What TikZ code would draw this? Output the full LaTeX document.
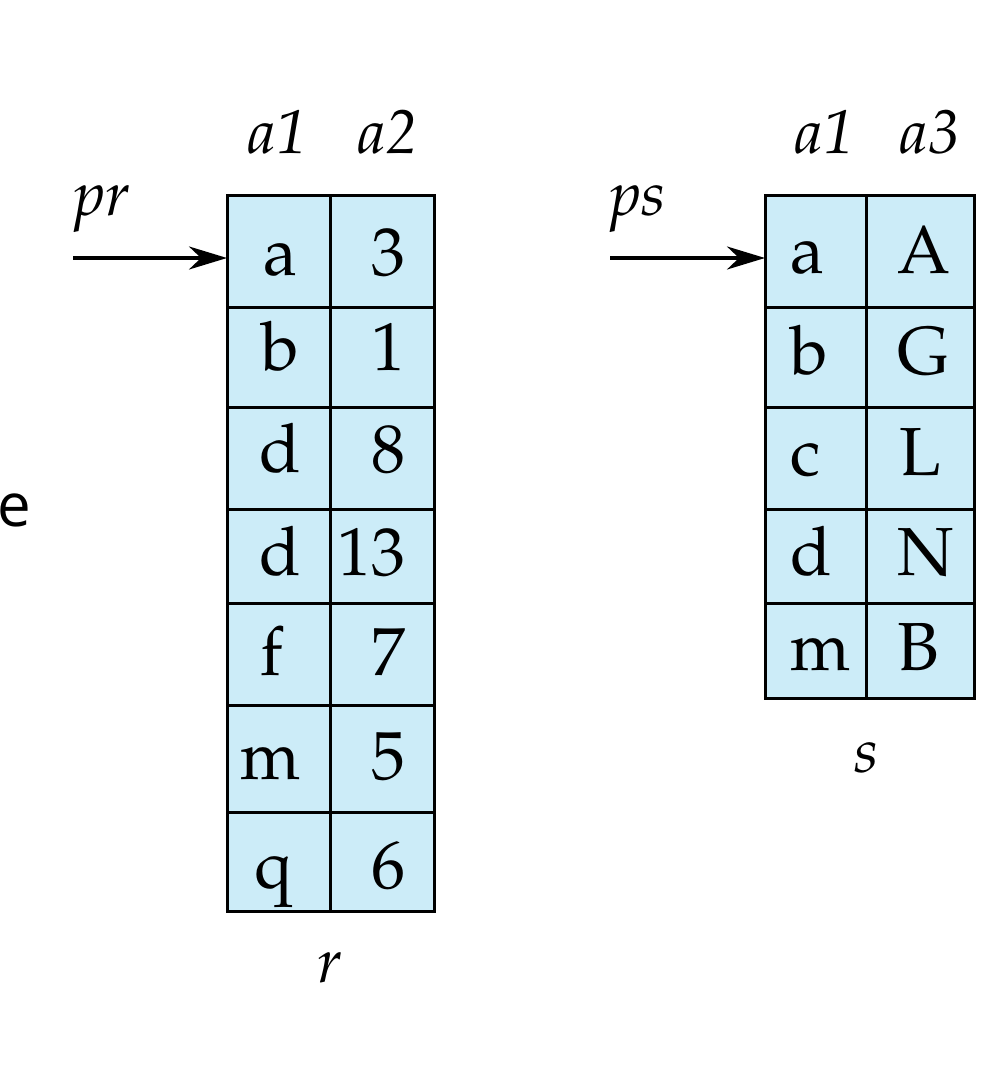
\documentclass[tikz,border=0pt]{standalone}
\usepackage{fontspec}
\setmainfont{TeX Gyre Pagella}
\newfontfamily\sansE{Open Sans}
\usetikzlibrary{arrows.meta}
\definecolor{cellblue}{RGB}{204,236,248}
\tikzset{
  tab/.style={fill=cellblue, draw=black, line width=3pt},
  grid/.style={draw=black, line width=3pt},
  cell/.style={inner sep=0pt, anchor=base, font=\fontsize{68}{80}\selectfont},
  cellL/.style={cell, anchor=base west},
  cellR/.style={cell, anchor=base east},
  lab/.style={inner sep=0pt, anchor=base, font=\fontsize{62}{74}\selectfont\itshape},
  arr/.style={line width=3.3pt, -{Stealth[length=38pt, width=23pt, inset=12pt]}},
}
\begin{document}
\begin{tikzpicture}[x=1pt, y=-1pt]
\useasboundingbox (0,0) rectangle (1000,1092);
% table r
\filldraw[tab] (227,195) rectangle (434,911);
\foreach \y in {307,407,509,603,705,812} \draw[grid] (227,\y) -- (434,\y);
\draw[grid] (330,195) -- (330,911);
\coordinate (rin) at (227,258);
\coordinate (prstart) at (73,258);
% table s
\filldraw[tab] (765,195) rectangle (974,698);
\foreach \y in {307,407,509,603} \draw[grid] (765,\y) -- (974,\y);
\draw[grid] (866,195) -- (866,698);
\coordinate (sin) at (765,258);
\coordinate (psstart) at (610,258);
% arrows
\draw[arr] (prstart) -- (rin);
\draw[arr] (psstart) -- (sin);
% labels
\node[lab] (ha1) at (278,153) {a1};
\node[lab] (ha2) at (388,153) {a2};
\node[lab] (hb1) at (825,153) {a1};
\node[lab] (hb3) at (930,153) {a3};
\node[lab, anchor=base west] (pr) at (74,215) {pr};
\node[lab, anchor=base west] (ps) at (610,215) {ps};
\node[lab] (rname) at (330,982) {r};
\node[lab] (sname) at (867,772) {s};
\node[inner sep=0pt, anchor=base west, font=\fontsize{60}{72}\selectfont\sansE] (e) at (-3,526) {e};
% r cells
\node[cell] (r1a) at (280,275) {a};
\node[cellR] (r1b) at (406,275) {3};
\node[cell] (r2a) at (280,370) {b};
\node[cellR] (r2b) at (406,370) {1};
\node[cell] (r3a) at (280,472) {d};
\node[cellR] (r3b) at (406,472) {8};
\node[cell] (r4a) at (280,575) {d};
\node[cellR] (r4b) at (406,575) {13};
\node[cell] (r5a) at (272,675) {f};
\node[cellR] (r5b) at (406,675) {7};
\node[cell] (r6a) at (271,779) {m};
\node[cellR] (r6b) at (406,779) {5};
\node[cell] (r7a) at (274,888) {q};
\node[cellR] (r7b) at (406,888) {6};
% s cells
\node[cellL] (s1a) at (790,273) {a};
\node[cellL] (s1b) at (897,273) {A};
\node[cellL] (s2a) at (790,374) {b};
\node[cellL] (s2b) at (897,374) {G};
\node[cellL] (s3a) at (790,475) {c};
\node[cellL] (s3b) at (899,475) {L};
\node[cellL] (s4a) at (790,575) {d};
\node[cellL] (s4b) at (897,575) {N};
\node[cellL] (s5a) at (790,670) {m};
\node[cellL] (s5b) at (897,670) {B};
\end{tikzpicture}
\end{document}
